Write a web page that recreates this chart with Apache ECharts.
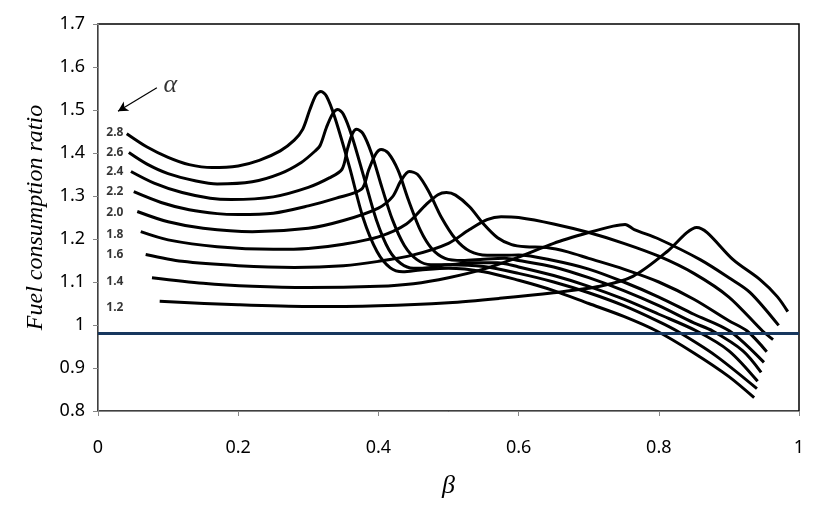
<!DOCTYPE html>
<html>
<head>
<meta charset="utf-8">
<script src="https://cdn.jsdelivr.net/npm/echarts@6/dist/echarts.min.js"></script>
<style>html,body{margin:0;padding:0;background:#fff}#c{width:823px;height:506px}</style>
</head>
<body>
<div id="c"></div>
<script>
// ---- data (beta, fuel consumption ratio) ----
const alphaNames = ['2.8','2.6','2.4','2.2','2.0','1.8','1.6','1.4','1.2'];
const curve28 = [[0.041,1.445],[0.07,1.414],[0.10,1.39],[0.13,1.373],[0.163,1.366],[0.20,1.370],[0.23,1.383],[0.26,1.405],[0.28,1.43],[0.292,1.455],[0.302,1.50],[0.311,1.535],[0.318,1.543],[0.326,1.532],[0.338,1.482],[0.359,1.366],[0.378,1.25],[0.398,1.171],[0.417,1.133],[0.435,1.124],[0.46,1.128],[0.50,1.132],[0.55,1.124],[0.6,1.104],[0.65,1.08],[0.7,1.05],[0.75,1.02],[0.797,0.986],[0.85,0.935],[0.9,0.88],[0.936,0.831]];
const curve26 = [[0.044,1.401],[0.07,1.374],[0.10,1.352],[0.14,1.335],[0.17,1.328],[0.22,1.333],[0.26,1.352],[0.29,1.378],[0.31,1.405],[0.317,1.418],[0.326,1.46],[0.335,1.492],[0.342,1.501],[0.35,1.49],[0.362,1.44],[0.38,1.34],[0.397,1.245],[0.415,1.175],[0.432,1.143],[0.45,1.132],[0.475,1.134],[0.5,1.14],[0.55,1.136],[0.6,1.12],[0.65,1.10],[0.7,1.075],[0.75,1.045],[0.8,1.008],[0.826,0.986],[0.88,0.93],[0.940,0.852]];
const curve24 = [[0.047,1.357],[0.08,1.33],[0.12,1.308],[0.16,1.295],[0.19,1.292],[0.25,1.298],[0.30,1.32],[0.33,1.342],[0.348,1.362],[0.356,1.41],[0.363,1.445],[0.369,1.455],[0.378,1.445],[0.39,1.40],[0.405,1.32],[0.42,1.245],[0.437,1.185],[0.455,1.152],[0.475,1.14],[0.5,1.14],[0.53,1.145],[0.57,1.145],[0.6,1.135],[0.65,1.115],[0.7,1.09],[0.75,1.06],[0.8,1.025],[0.854,0.986],[0.9,0.94],[0.941,0.869]];
const curve22 = [[0.051,1.310],[0.09,1.285],[0.13,1.268],[0.17,1.259],[0.20,1.257],[0.25,1.26],[0.30,1.277],[0.34,1.295],[0.376,1.316],[0.386,1.36],[0.396,1.397],[0.404,1.408],[0.414,1.40],[0.428,1.36],[0.443,1.29],[0.46,1.22],[0.476,1.178],[0.495,1.155],[0.52,1.15],[0.55,1.153],[0.58,1.155],[0.6,1.15],[0.65,1.135],[0.7,1.11],[0.75,1.08],[0.8,1.045],[0.85,1.005],[0.877,0.986],[0.92,0.94],[0.946,0.890]];
const curve20 = [[0.056,1.264],[0.10,1.24],[0.15,1.225],[0.22,1.217],[0.30,1.225],[0.35,1.243],[0.40,1.272],[0.42,1.298],[0.432,1.335],[0.444,1.357],[0.456,1.35],[0.472,1.31],[0.49,1.25],[0.51,1.20],[0.53,1.172],[0.555,1.162],[0.58,1.162],[0.6,1.163],[0.65,1.15],[0.7,1.13],[0.75,1.10],[0.8,1.065],[0.85,1.025],[0.901,0.986],[0.950,0.913]];
const curve18 = [[0.061,1.217],[0.10,1.198],[0.17,1.182],[0.25,1.176],[0.3,1.178],[0.35,1.188],[0.4,1.205],[0.44,1.235],[0.468,1.28],[0.485,1.303],[0.497,1.308],[0.51,1.302],[0.53,1.275],[0.55,1.235],[0.57,1.203],[0.59,1.187],[0.61,1.182],[0.64,1.18],[0.67,1.17],[0.7,1.155],[0.75,1.13],[0.8,1.10],[0.85,1.06],[0.9,1.01],[0.926,0.986],[0.954,0.938]];
const curve16 = [[0.068,1.164],[0.12,1.148],[0.2,1.138],[0.28,1.134],[0.35,1.138],[0.4,1.148],[0.45,1.163],[0.5,1.19],[0.53,1.222],[0.555,1.245],[0.575,1.252],[0.6,1.25],[0.65,1.235],[0.7,1.215],[0.75,1.19],[0.8,1.16],[0.85,1.12],[0.9,1.065],[0.948,0.986],[0.963,0.966]];
const curve14 = [[0.077,1.110],[0.15,1.097],[0.22,1.09],[0.3,1.087],[0.4,1.09],[0.45,1.096],[0.5,1.11],[0.55,1.13],[0.6,1.158],[0.65,1.19],[0.7,1.215],[0.735,1.23],[0.752,1.234],[0.765,1.222],[0.8,1.20],[0.859,1.152],[0.9,1.11],[0.93,1.076],[0.971,0.999]];
const curve12 = [[0.088,1.055],[0.2,1.047],[0.3,1.043],[0.4,1.045],[0.5,1.052],[0.573,1.062],[0.65,1.075],[0.716,1.09],[0.763,1.113],[0.812,1.171],[0.840,1.215],[0.854,1.227],[0.869,1.215],[0.906,1.152],[0.944,1.106],[0.969,1.066],[0.984,1.031]];
const curves = [curve28,curve26,curve24,curve22,curve20,curve18,curve16,curve14,curve12];
// label anchor positions (beta, ratio) for the alpha labels
const labelBeta = 0.024;
const labelRatio = [1.448,1.401,1.357,1.310,1.262,1.210,1.164,1.101,1.041];
const referenceRatio = 0.984;
const arrowFrom = [0.084,1.552];
const arrowTo = [0.0285,1.497];
const alphaTextPos = [0.103,1.557];
const xTicks = {min:0,max:1,interval:0.2};
const yTicks = {min:0.8,max:1.7,interval:0.1};

const chart = echarts.init(document.getElementById('c'), null, {renderer:'canvas'});
const series = curves.map((d,i)=>({
  type:'line', name:alphaNames[i], data:d, showSymbol:false, symbol:'none',
  smooth:0.3,
  lineStyle:{color:'#000',width:3}, z:3, silent:true
}));
series.push({
  type:'scatter', symbolSize:0, silent:true,
  data: labelRatio.map((v,i)=>({value:[labelBeta,v], name:alphaNames[i]})),
  label:{show:true, position:'inside', formatter:p=>p.name, color:'#000', fontSize:12, fontWeight:'bold', fontFamily:'Noto Sans'},
  markLine:{
    silent:true, symbol:['none','none'],
    lineStyle:{color:'#17375E',width:3,type:'solid'}, label:{show:false},
    data:[{yAxis:referenceRatio}]
  }
});
series.push({
  type:'scatter', symbolSize:0, silent:true,
  data:[{value:alphaTextPos, name:'α'}],
  label:{show:true, position:'inside', formatter:'α', color:'#000', fontSize:26, fontStyle:'italic', fontFamily:'Liberation Serif'},
  markLine:{
    silent:true, symbol:['none','arrow'], symbolSize:[8,10],
    lineStyle:{color:'#000',width:1.2,type:'solid'}, label:{show:false},
    data:[[{coord:arrowFrom},{coord:arrowTo}]]
  }
});

chart.setOption({
  animation:false,
  backgroundColor:'#fff',
  grid:{left:98,right:24,top:24,bottom:95,show:true,borderColor:'#000',borderWidth:1.5,backgroundColor:'transparent'},
  xAxis:{
    type:'value', min:xTicks.min, max:xTicks.max, interval:xTicks.interval,
    name:'β', nameLocation:'middle', nameGap:62,
    nameTextStyle:{fontFamily:'Liberation Serif',fontStyle:'italic',fontSize:26,color:'#000'},
    axisLine:{show:true,onZero:false,lineStyle:{color:'#868686',width:1}},
    axisTick:{show:true,length:5,lineStyle:{color:'#868686'}},
    axisLabel:{fontFamily:'Noto Sans',fontSize:18,color:'#000',margin:28},
    splitLine:{show:false}
  },
  yAxis:{
    type:'value', min:yTicks.min, max:yTicks.max, interval:yTicks.interval,
    name:'Fuel consumption ratio', nameLocation:'middle', nameGap:50, nameRotate:90,
    nameTextStyle:{fontFamily:'Liberation Serif',fontStyle:'italic',fontSize:24,color:'#000'},
    axisLine:{show:true,onZero:false,lineStyle:{color:'#868686',width:1}},
    axisTick:{show:true,length:5,lineStyle:{color:'#868686'}},
    axisLabel:{fontFamily:'Noto Sans',fontSize:18,color:'#000',margin:13},
    splitLine:{show:false}
  },
  series:series
});
</script>
</body>
</html>
